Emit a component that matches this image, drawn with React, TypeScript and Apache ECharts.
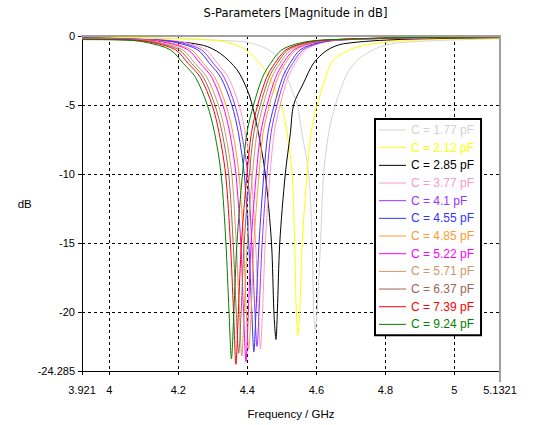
import React, { useEffect, useRef } from "react";
import * as echarts from "echarts";

const FONT = '"Liberation Sans", Arial, sans-serif';
const TITLE_FONT = '"DejaVu Sans", Verdana, sans-serif';

const capacitances = ["1.77", "2.12", "2.85", "3.77", "4.1", "4.55", "4.85", "5.22", "5.71", "6.37", "7.39", "9.24"];
const seriesColors = ["#d3d3d3", "#ffff00", "#000000", "#ff99c8", "#9933ff", "#3333ff", "#ff9933", "#ff00ff", "#cc9966", "#996655", "#ff0000", "#008000"];

const xTickValues = [3.921, 4, 4.2, 4.4, 4.6, 4.8, 5, 5.1321];
const yTickValues = [-24.285, -20, -15, -10, -5, 0];

// [frequency GHz, S11 dB]
const c1_77 = [[3.921,-0.05],[4.119,-0.15],[4.307,-0.3],[4.418,-0.56],[4.486,-1.5],[4.539,-4.56],[4.545,-5],[4.558,-7],[4.578,-10],[4.588,-15],[4.592,-20],[4.597,-21.3],[4.602,-20],[4.612,-15],[4.621,-10],[4.636,-7],[4.655,-5],[4.689,-2.75],[4.728,-1.55],[4.805,-0.63],[4.93,-0.35],[5.1321,-0.2]];
const c2_12 = [[3.921,-0.07],[4.15,-0.15],[4.312,-0.33],[4.37,-0.68],[4.409,-1.27],[4.457,-2.68],[4.498,-5],[4.515,-7],[4.53,-10],[4.537,-15],[4.542,-20],[4.546,-21.7],[4.552,-20],[4.559,-15],[4.573,-10],[4.585,-7],[4.602,-5],[4.627,-3],[4.649,-1.74],[4.718,-0.8],[4.844,-0.35],[5.1321,-0.15]];
const c2_85 = [[3.921,-0.12],[4.05,-0.2],[4.177,-0.37],[4.273,-0.68],[4.322,-1.27],[4.37,-2.44],[4.399,-3.85],[4.414,-5],[4.432,-7],[4.452,-10],[4.47,-15],[4.477,-20],[4.483,-22.0],[4.487,-20],[4.494,-15],[4.51,-10],[4.525,-7],[4.534,-5],[4.563,-3.4],[4.592,-1.97],[4.631,-1.03],[4.679,-0.56],[4.844,-0.25],[5.1321,-0.12]];
const c3_77 = [[3.921,-0.15],[4.171,-0.3],[4.224,-0.5],[4.28,-1],[4.314,-2],[4.345,-3],[4.376,-5],[4.394,-7],[4.411,-10],[4.424,-15],[4.432,-20],[4.438,-22.7],[4.444,-20],[4.452,-15],[4.466,-10],[4.478,-7],[4.495,-5],[4.518,-3],[4.539,-2],[4.568,-1],[4.616,-0.5],[4.668,-0.3],[4.844,-0.17],[5.1321,-0.09]];
const c4_10 = [[3.921,-0.16],[4.155,-0.3],[4.21,-0.5],[4.267,-1],[4.302,-2],[4.333,-3],[4.364,-5],[4.383,-7],[4.401,-10],[4.413,-15],[4.422,-20],[4.428,-22.5],[4.434,-20],[4.443,-15],[4.457,-10],[4.469,-7],[4.486,-5],[4.51,-3],[4.531,-2],[4.561,-1],[4.61,-0.5],[4.663,-0.3],[4.844,-0.16],[5.1321,-0.08]];
const c4_55 = [[3.921,-0.17],[4.143,-0.3],[4.198,-0.5],[4.256,-1],[4.291,-2],[4.323,-3],[4.355,-5],[4.374,-7],[4.391,-10],[4.404,-15],[4.413,-20],[4.419,-22.9],[4.425,-20],[4.434,-15],[4.448,-10],[4.46,-7],[4.478,-5],[4.502,-3],[4.523,-2],[4.553,-1],[4.603,-0.5],[4.656,-0.3],[4.844,-0.15],[5.1321,-0.08]];
const c4_85 = [[3.921,-0.19],[4.122,-0.3],[4.178,-0.5],[4.238,-1],[4.273,-2],[4.306,-3],[4.338,-5],[4.358,-7],[4.376,-10],[4.389,-15],[4.397,-20],[4.404,-22.7],[4.411,-20],[4.419,-15],[4.434,-10],[4.446,-7],[4.464,-5],[4.489,-3],[4.51,-2],[4.541,-1],[4.592,-0.5],[4.647,-0.3],[4.844,-0.15],[5.1321,-0.08]];
const c5_22 = [[3.921,-0.2],[4.111,-0.3],[4.168,-0.5],[4.228,-1],[4.264,-2],[4.297,-3],[4.329,-5],[4.349,-7],[4.367,-10],[4.381,-15],[4.389,-20],[4.396,-23.6],[4.403,-20],[4.411,-15],[4.426,-10],[4.439,-7],[4.457,-5],[4.482,-3],[4.503,-2],[4.535,-1],[4.586,-0.5],[4.641,-0.3],[4.844,-0.14],[5.1321,-0.07]];
const c5_71 = [[3.921,-0.21],[4.093,-0.3],[4.151,-0.5],[4.212,-1],[4.249,-2],[4.283,-3],[4.316,-5],[4.336,-7],[4.355,-10],[4.368,-15],[4.377,-20],[4.384,-23.2],[4.391,-20],[4.4,-15],[4.415,-10],[4.428,-7],[4.446,-5],[4.471,-3],[4.494,-2],[4.526,-1],[4.578,-0.5],[4.634,-0.3],[4.844,-0.14],[5.1321,-0.07]];
const c6_37 = [[3.921,-0.23],[4.081,-0.3],[4.14,-0.5],[4.202,-1],[4.239,-2],[4.273,-3],[4.306,-5],[4.327,-7],[4.346,-10],[4.359,-15],[4.368,-20],[4.375,-23.0],[4.382,-20],[4.391,-15],[4.406,-10],[4.419,-7],[4.438,-5],[4.463,-3],[4.486,-2],[4.518,-1],[4.571,-0.5],[4.628,-0.3],[4.844,-0.13],[5.1321,-0.07]];
const c7_39 = [[3.921,-0.24],[4.07,-0.3],[4.129,-0.5],[4.192,-1],[4.229,-2],[4.264,-3],[4.298,-5],[4.318,-7],[4.337,-10],[4.351,-15],[4.36,-20],[4.367,-23.8],[4.374,-20],[4.383,-15],[4.399,-10],[4.412,-7],[4.43,-5],[4.456,-3],[4.479,-2],[4.512,-1],[4.565,-0.5],[4.622,-0.3],[4.844,-0.13],[5.1321,-0.06]];
const c9_24 = [[3.921,-0.26],[4.054,-0.3],[4.114,-0.5],[4.177,-1],[4.215,-2],[4.25,-3],[4.284,-5],[4.305,-7],[4.324,-10],[4.338,-15],[4.347,-20],[4.354,-23.4],[4.361,-20],[4.37,-15],[4.386,-10],[4.399,-7],[4.418,-5],[4.444,-3],[4.467,-2],[4.5,-1],[4.554,-0.5],[4.612,-0.3],[4.844,-0.12],[5.1321,-0.06]];

const curves = [c1_77, c2_12, c2_85, c3_77, c4_10, c4_55, c4_85, c5_22, c5_71, c6_37, c7_39, c9_24];

export default function App() {
  const ref = useRef<HTMLDivElement>(null);
  useEffect(() => {
    if (!ref.current) return;
    const chart = echarts.init(ref.current, null, { renderer: "svg" });
    const names = capacitances.map((c) => `C = ${c} pF`);
    const axisText = { fontSize: 11, color: "#000", fontFamily: FONT };
    chart.setOption({
      animation: false,
      backgroundColor: "#fff",
      grid: { left: 82, top: 36, right: 36, bottom: 43.5, containLabel: false },
      xAxis: {
        type: "value",
        min: 3.921,
        max: 5.1321,
        name: "Frequency / GHz",
        nameLocation: "middle",
        nameGap: 37,
        nameTextStyle: { fontSize: 11.5, color: "#000", fontFamily: FONT },
        axisLine: { show: true, onZero: false, lineStyle: { color: "#000", width: 1 } },
        axisTick: { show: true, length: 4, customValues: xTickValues, lineStyle: { color: "#000" } },
        axisLabel: { ...axisText, margin: 13, customValues: xTickValues, formatter: (v: number) => String(v) },
        splitLine: { show: true, lineStyle: { type: [3, 3], color: "#000", width: 1 } },
      },
      yAxis: {
        type: "value",
        min: -24.285,
        max: 0,
        name: "dB",
        nameLocation: "middle",
        nameRotate: 0,
        nameGap: 35,
        nameTextStyle: { fontSize: 11.5, color: "#000", fontFamily: FONT },
        axisLine: { show: true, onZero: false, lineStyle: { color: "#000", width: 1 } },
        axisTick: { show: true, length: 4, customValues: yTickValues, lineStyle: { color: "#000" } },
        axisLabel: { ...axisText, margin: 7, customValues: yTickValues, formatter: (v: number) => String(v) },
        splitLine: { show: true, lineStyle: { type: [3, 3], color: "#000", width: 1 } },
      },
      legend: {
        orient: "vertical",
        left: 375,
        top: 119,
        backgroundColor: "#fff",
        borderColor: "#000",
        borderWidth: 2,
        borderRadius: 0,
        padding: [5, 7, 5, 4],
        icon: "rect",
        itemWidth: 27,
        itemHeight: 1,
        itemGap: 5.67,
        selectedMode: false,
        textStyle: { fontSize: 12, fontFamily: FONT },
        data: names.map((n, i) => ({ name: n, textStyle: { color: seriesColors[i] } })),
      },
      graphic: [
        {
          type: "text",
          x: 295.5,
          y: 13,
          z: 100,
          style: {
            text: "S-Parameters [Magnitude in dB]",
            fill: "#000",
            font: `11.5px ${TITLE_FONT}`,
            align: "center",
            verticalAlign: "middle",
            textAlign: "center",
            textVerticalAlign: "middle",
          },
        },
        { type: "line", z: 100, shape: { x1: 81, y1: 36, x2: 501, y2: 36 }, style: { stroke: "#a0a0a0", lineWidth: 2 } },
        { type: "line", z: 100, shape: { x1: 500, y1: 36, x2: 500, y2: 382 }, style: { stroke: "#a0a0a0", lineWidth: 2 } },
      ],
      series: curves.map((d, i) => ({
        name: names[i],
        type: "line",
        data: d,
        symbol: "none",
        showSymbol: false,
        smooth: 0.3,
        lineStyle: { width: 1, color: seriesColors[i] },
        itemStyle: { color: seriesColors[i] },
      })),
    });
    return () => chart.dispose();
  }, []);
  return <div ref={ref} style={{ position: "absolute", left: 0, top: 0, width: 536, height: 425, background: "#fff" }} />;
}
